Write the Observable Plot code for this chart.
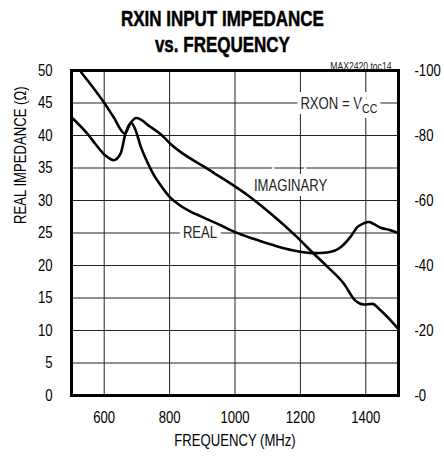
<!DOCTYPE html>
<html>
<head>
<meta charset="utf-8">
<script src="https://cdn.jsdelivr.net/npm/d3@7"></script>
<script src="https://cdn.jsdelivr.net/npm/@observablehq/plot@0.6"></script>
<style>
  html, body { margin: 0; padding: 0; background: white; }
  #wrap { width: 444px; height: 456px; position: relative; overflow: hidden; }
  #title { position: absolute; left: 0; top: 0; width: 444px; height: 58px; text-align: center;
    font-family: "Liberation Sans", Arial, sans-serif;
    font-weight: bold; font-size: 22px; color: #000; -webkit-text-stroke: 0.5px #000; }
  #title div { position: absolute; left: 0; width: 444px; text-align: center; line-height: 22px; }
  #title span { display: inline-block; transform-origin: center; }
  #chart { position: absolute; left: 0; top: 58px; }
</style>
</head>
<body>
<div id="wrap">
  <div id="title">
    <div style="top:8px"><span data-w="203">RXIN INPUT IMPEDANCE</span></div>
    <div style="top:34px"><span data-w="135">vs. FREQUENCY</span></div>
  </div>
  <div id="chart"></div>
</div>
<script>
// ---- data ----
const freqReal = [500, 553, 573, 604, 629, 650, 665, 683, 696, 711, 731, 752, 772, 803, 833, 864, 894, 956, 1002, 1057, 1119, 1180, 1241, 1282, 1323, 1353, 1374, 1394, 1409, 1424, 1445, 1470, 1500];
const realOhm  = [42.8, 40.0, 38.7, 36.9, 36.2, 37.2, 40.3, 41.9, 40.8, 38.4, 36.0, 33.9, 32.4, 30.4, 29.2, 28.3, 27.6, 26.2, 25.1, 24.1, 23.1, 22.3, 21.9, 22.0, 22.8, 24.4, 25.9, 26.5, 26.7, 26.4, 25.8, 25.5, 25.0];

const freqImag = [530, 599, 629, 663, 680, 698, 742, 777, 803, 925, 1047, 1109, 1185, 1241, 1285, 1333, 1368, 1394, 1420, 1445, 1500];
const imagOhm  = [-99.4, -90.2, -85.6, -80.6, -83.8, -85.4, -82.6, -80.0, -77.4, -69.2, -61.0, -56.0, -49.2, -43.6, -39.4, -34.4, -29.2, -28.0, -28.2, -26.2, -20.4];

const xTicks = [600, 800, 1000, 1200, 1400];
const leftTicks = [0, 5, 10, 15, 20, 25, 30, 35, 40, 45, 50];
const rightTickValues = [0, -20, -40, -60, -80, -100]; // imaginary impedance (Ω)
const rightTickLabels = ["-0", "-20", "-40", "-60", "-80", "-100"];

const annoText = ["REAL", "IMAGINARY", "RXON = V"];
const annoFreq = [893, 1170, 1200];
const annoVal  = [25, 32.3, 44.8];
const annoAnchor = ["middle", "middle", "start"];

const xLabel = "FREQUENCY (MHz)";
const yLabel = "REAL IMPEDANCE (Ω)";
const docId = "MAX2420 toc14";

// ---- build ----
const real = freqReal.map((f, i) => ({f, v: realOhm[i]}));
const imag = freqImag.map((f, i) => ({f, im: imagOhm[i]}));
const imagToLeft = im => -im / 2;   // right axis: -100 ↔ 50
const anno = annoText.map((t, i) => ({t, f: annoFreq[i], v: annoVal[i], a: annoAnchor[i]}));
const rightTicks = rightTickValues.map((im, i) => ({y: imagToLeft(im), label: rightTickLabels[i]}));

const FONT = '"Liberation Sans", Arial, sans-serif';
const FS = 16;

const chart = Plot.plot({
  width: 444,
  height: 398,
  marginTop: 12,
  marginLeft: 71,
  marginRight: 46,
  marginBottom: 61,
  x: {domain: [500, 1500]},
  y: {domain: [0, 50]},
  style: {fontFamily: FONT, fontSize: FS + "px", background: "white", color: "black", overflow: "visible"},
  marks: [
    Plot.gridX(xTicks, {stroke: "#222", strokeOpacity: 1, strokeWidth: 1}),
    Plot.gridY(leftTicks, {stroke: "#222", strokeOpacity: 1, strokeWidth: 1}),
    Plot.text(anno.filter(d => d.a === "middle"), {x: "f", y: "v", text: "t", textAnchor: "middle", fontSize: FS,
      fill: "#222", stroke: "white", strokeWidth: 10, strokeLinejoin: "miter"}),
    Plot.text(anno.filter(d => d.a === "start"), {x: "f", y: "v", text: "t", textAnchor: "start", fontSize: FS,
      fill: "#222", stroke: "white", strokeWidth: 10, strokeLinejoin: "miter", className: "rxon"}),
    Plot.line(real, {x: "f", y: "v", stroke: "black", strokeWidth: 2.6, curve: "monotone-x"}),
    Plot.line(imag, {x: "f", y: d => imagToLeft(d.im), stroke: "black", strokeWidth: 2.6, curve: "monotone-x"}),
    Plot.frame({stroke: "black", strokeWidth: 3}),
    Plot.axisX(xTicks, {tickSize: 0, tickPadding: 16, label: null, fontSize: FS, tickFormat: d => String(d)}),
    Plot.axisY(leftTicks, {anchor: "left", tickSize: 0, tickPadding: 19, label: null, fontSize: FS, tickFormat: d => String(d)}),
    Plot.text(rightTicks, {x: 1500, y: "y", text: "label", textAnchor: "start", dx: 16, fontSize: FS}),
    Plot.text([xLabel], {frameAnchor: "bottom", dy: 50, fontSize: FS}),
    Plot.text([yLabel], {frameAnchor: "left", rotate: -90, dx: -51, dy: -9, fontSize: FS}),
    Plot.text([docId], {frameAnchor: "top-right", textAnchor: "end", dx: -7, dy: -8, fontSize: 10.5, fill: "#222"})
  ]
});

// subscript "CC"
chart.querySelectorAll(".rxon text").forEach(t => {
  const ts = document.createElementNS("http://www.w3.org/2000/svg", "tspan");
  ts.setAttribute("dy", "4");
  ts.setAttribute("font-size", "13");
  ts.textContent = "CC";
  t.appendChild(ts);
});

// condense all chart text horizontally (narrow grotesque look)
const SX = 0.82;
chart.querySelectorAll("text").forEach(t => {
  const xa = t.getAttribute("x"), ya = t.getAttribute("y");
  const x = xa && !/em/.test(xa) ? parseFloat(xa) : 0;
  const y = ya && !/em/.test(ya) ? parseFloat(ya) : 0;
  if (xa && !/em/.test(xa)) t.removeAttribute("x");
  if (ya && !/em/.test(ya)) t.removeAttribute("y");
  const T = t.getAttribute("transform") || "";
  t.setAttribute("transform", `${T} translate(${x},${y}) scale(${SX},1)`.trim());
});

document.getElementById("chart").appendChild(chart);

// fit title lines to reference widths
document.querySelectorAll("#title span").forEach(s => {
  const w = s.getBoundingClientRect().width;
  const target = +s.dataset.w;
  if (w > 0) s.style.transform = `scaleX(${target / w})`;
});
</script>
</body>
</html>
